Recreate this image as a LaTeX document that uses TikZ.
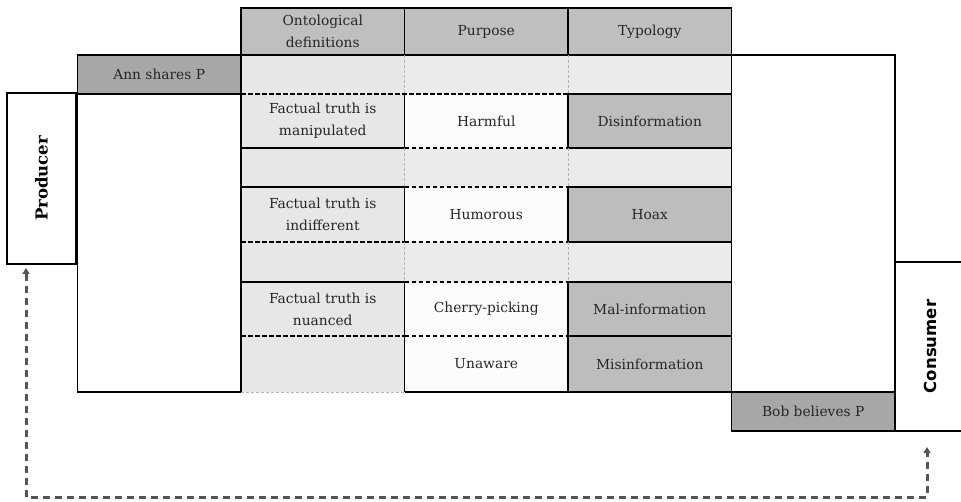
\documentclass[tikz,border=0pt]{standalone}
\usepackage{fontspec}
\setmainfont{DejaVu Serif}
\setsansfont{DejaVu Sans}
\usetikzlibrary{positioning,arrows.meta}

\definecolor{headgray}{HTML}{BFBFBF}
\definecolor{ontogray}{HTML}{E7E7E7}
\definecolor{dotgray}{HTML}{EBEBEB}
\definecolor{typegray}{HTML}{BDBDBD}
\definecolor{agentgray}{HTML}{A7A7A7}
\definecolor{paperwhite}{HTML}{FCFCFC}
\definecolor{flowgray}{HTML}{555555}

\begin{document}
\begin{tikzpicture}[x=1pt,y=-1pt,>={Triangle[length=6pt,width=7pt]},
    cell/.style={inner sep=0pt,outer sep=0pt,minimum width=163.5pt,align=center,
                 text=black!85,font=\fontsize{13.8}{22}\selectfont},
    head/.style={cell,fill=headgray,minimum height=47pt},
    onto/.style={cell,fill=ontogray},
    blank/.style={cell,fill=dotgray},
    purp/.style={cell,fill=paperwhite},
    kind/.style={cell,fill=typegray},
    agent/.style={cell,fill=agentgray,minimum height=39pt},
    side/.style={inner sep=0pt,outer sep=0pt,fill=white,draw,line width=1.6pt},
    solid line/.style={line width=1.6pt},
    cut line/.style={line width=1.5pt,dash pattern=on 4.5pt off 2.5pt},
    faint line/.style={line width=0.8pt,gray!60,dash pattern=on 3pt off 2pt},
    flow/.style={<->,line width=3pt,flowgray,dash pattern=on 7pt off 5pt}]

    \useasboundingbox (0,0) rectangle (961,502);

    % table header
    \node[head, anchor=north west] (hOnto) at (241,8) {Ontological\\definitions};
    \node[head] (hPurp) [right=0pt of hOnto] {Purpose};
    \node[head] (hType) [right=0pt of hPurp] {Typology};

    % ontological column
    \node[onto, minimum height=39pt] (o1) [below=0pt of hOnto] {};
    \node[onto, minimum height=54pt] (o2) [below=0pt of o1] {Factual truth is\\manipulated};
    \node[onto, minimum height=39pt] (o3) [below=0pt of o2] {};
    \node[onto, minimum height=55pt] (o4) [below=0pt of o3] {Factual truth is\\indifferent};
    \node[onto, minimum height=40pt] (o5) [below=0pt of o4] {};
    \node[onto, minimum height=54pt] (o6) [below=0pt of o5] {Factual truth is\\nuanced};
    \node[onto, minimum height=56pt] (o7) [below=0pt of o6] {};

    % purpose column
    \node[blank, minimum height=39pt] (p1) [right=0pt of o1] {};
    \node[purp,  minimum height=54pt] (p2) [right=0pt of o2] {Harmful};
    \node[blank, minimum height=39pt] (p3) [right=0pt of o3] {};
    \node[purp,  minimum height=55pt] (p4) [right=0pt of o4] {Humorous};
    \node[blank, minimum height=40pt] (p5) [right=0pt of o5] {};
    \node[purp,  minimum height=54pt] (p6) [right=0pt of o6] {Cherry-picking};
    \node[purp,  minimum height=56pt] (p7) [right=0pt of o7] {Unaware};

    % typology column
    \node[blank, minimum height=39pt] (t1) [right=0pt of p1] {};
    \node[kind,  minimum height=54pt] (t2) [right=0pt of p2] {Disinformation};
    \node[blank, minimum height=39pt] (t3) [right=0pt of p3] {};
    \node[kind,  minimum height=55pt] (t4) [right=0pt of p4] {Hoax};
    \node[blank, minimum height=40pt] (t5) [right=0pt of p5] {};
    \node[kind,  minimum height=54pt] (t6) [right=0pt of p6] {Mal-information};
    \node[kind,  minimum height=56pt] (t7) [right=0pt of p7] {Misinformation};

    % sender and receiver side
    \node[agent] (ann) [left=0pt of o1] {Ann shares P};
    \node[cell, minimum height=298pt, anchor=north east] (lblock) at (o2.north west) {};
    \node[cell, minimum height=337pt, anchor=north west] (rblock) at (t1.north east) {};
    \node[agent] (bob) [below=0pt of rblock] {Bob believes P};

    \node[side, minimum width=69pt, minimum height=171pt, anchor=north west] (producer) at (7,93)
        {\rotatebox{90}{\fontsize{16.5}{20}\selectfont\bfseries Producer}};
    \node[side, minimum width=70pt, minimum height=169pt, anchor=south west] (consumer) at (bob.south east)
        {\rotatebox{90}{\fontsize{16.5}{20}\sffamily\bfseries Consumer}};

    % borders
    \draw[solid line] (hOnto.north west) rectangle (hType.south east);
    \draw[solid line] (hPurp.north west) -- (hPurp.south west)
                      (hPurp.north east) -- (hPurp.south east);
    \draw[solid line] (ann.north west) rectangle (ann.south east);
    \draw[solid line] (lblock.north west) rectangle (lblock.south east);
    \draw[solid line] (rblock.north west) rectangle (rblock.south east);
    \draw[solid line] (bob.north west) rectangle (bob.south east);
    \draw[solid line] (o1.north west) -- (o7.south west);

    % row separators
    \draw[cut line] (o1.south west) -- (p1.south east);
    \draw[cut line] (o4.south west) -- (o4.south east);
    \draw[cut line] (o6.south west) -- (o6.south east);
    \draw[solid line] (o2.south west) -- (o2.south east)
                      (o3.south west) -- (o3.south east)
                      (o5.south west) -- (o5.south east);
    \foreach \r in {2,...,6}
        \draw[cut line] (p\r.south west) -- (p\r.south east);
    \foreach \r in {1,...,6}
        \draw[solid line] (t\r.south west) -- (t\r.south east);
    \draw[faint line] (o7.south west) -- (o7.south east);
    \draw[solid line] (p7.south west) -- (t7.south east);

    % column separators
    \foreach \r in {2,4,6,7}
        \draw[solid line] (p\r.north west) -- (p\r.south west)
                          (p\r.north east) -- (p\r.south east);
    \foreach \r in {1,3,5}
        \draw[faint line] (p\r.north west) -- (p\r.south west)
                          (p\r.north east) -- (p\r.south east);

    % feedback loop
    \coordinate (pIn) at (26,268);
    \coordinate (loopLow) at (26,497);
    \coordinate (cIn) at (927,447);
    \draw[flow] (pIn) -- (loopLow) -| (cIn);
\end{tikzpicture}
\end{document}
